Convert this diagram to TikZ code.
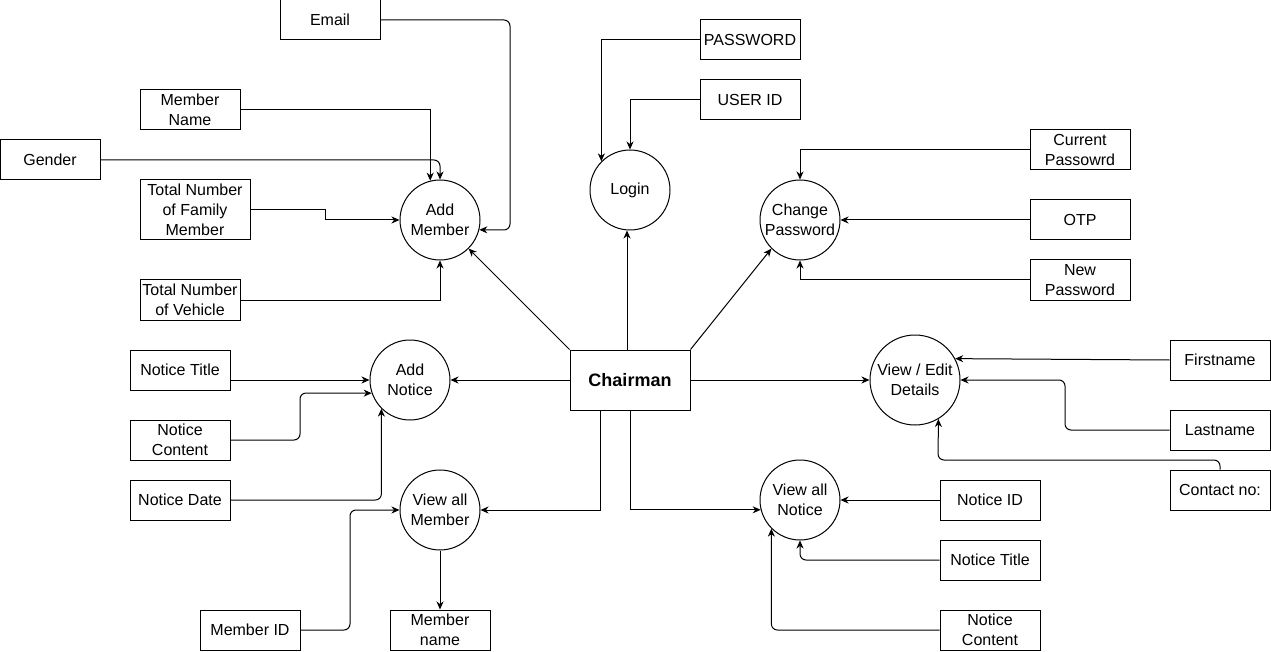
\documentclass[tikz,border=0pt]{standalone}
\usepackage{fontspec}
\setmainfont{Liberation Sans}
\usetikzlibrary{arrows.meta}

\begin{document}
\begin{tikzpicture}[x=1pt,y=-1pt,line width=1pt,font=\fontsize{16}{20}\selectfont,
	box/.style={draw,minimum width=100pt,minimum height=40pt,align=center,inner sep=0pt},
	proc/.style={draw,circle,minimum size=80pt,align=center,inner sep=0pt},
	arr/.style={-{Stealth[length=8pt,width=7pt,inset=2.5pt]}},
	rnd/.style={arr,rounded corners=6pt}]
	\useasboundingbox (0,0) rectangle (1271,652);
	\node[box] (email) at (330,20) {Email};
	\node[box] (mname) at (190,110) {Member\\Name};
	\node[box] (gender) at (50,160) {Gender};
	\node[box,minimum width=110pt,minimum height=60pt] (family) at (195,210) {Total Number\\of Family\\Member};
	\node[box] (vehicle) at (190,300) {Total Number\\of Vehicle};
	\node[proc] (addm) at (440,220) {Add\\Member};
	\node[proc] (login) at (630,190) {Login};
	\node[box] (pass) at (750,40) {PASSWORD};
	\node[box] (uid) at (750,100) {USER ID};
	\node[proc] (chpass) at (800,220) {Change\\Password};
	\node[box] (curpass) at (1080,150) {Current\\Passowrd};
	\node[box] (otp) at (1080,220) {OTP};
	\node[box] (newpass) at (1080,280) {New\\Password};
	\node[box,minimum width=120pt,minimum height=60pt,font=\fontsize{18}{22}\selectfont\bfseries] (chair) at (630,380) {Chairman};
	\node[proc] (addn) at (410,380) {Add\\Notice};
	\node[box] (ntitle) at (180,370) {Notice Title};
	\node[box] (ncontent) at (180,440) {Notice\\Content};
	\node[box] (ndate) at (180,500) {Notice Date};
	\node[proc] (viewm) at (440,510) {View all\\Member};
	\node[box] (mid) at (250,630) {Member ID};
	\node[box] (mname2) at (440,630) {Member\\name};
	\node[proc,minimum size=90pt] (edit) at (915,380) {View / Edit\\Details};
	\node[box] (fname) at (1220,360) {Firstname};
	\node[box] (lname) at (1220,430) {Lastname};
	\node[box] (contact) at (1220,490) {Contact no:};
	\node[proc] (viewn) at (800,500) {View all\\Notice};
	\node[box] (nid) at (990,500) {Notice ID};
	\node[box] (ntitle2) at (990,560) {Notice Title};
	\node[box] (ncontent2) at (990,630) {Notice\\Content};

	\draw[rnd] (email.east) -- (510,20) -- (510,230) -- (addm.-14.5);
	\draw[arr] (mname.east) -| (addm.104.5);
	\draw[rnd] (gender.east) -| (addm.north);
	\draw[arr] (family.east) -- (325,210) -- (325,220) -- (addm.west);
	\draw[arr] (vehicle.east) -| (addm.south);
	\draw[arr] (chair.north west) -- (addm.-45);
	\draw[arr] ([xshift=-3pt]chair.north) -- ([xshift=-3pt]login.south);
	\draw[arr] (pass.west) -| (login.135);
	\draw[arr] (uid.west) -| (login.north);
	\draw[arr] (chair.north east) -- (chpass.-135);
	\draw[arr] (curpass.west) -| (chpass.north);
	\draw[arr] (otp.west) -- (chpass.east);
	\draw[arr] (newpass.west) -| (chpass.south);
	\draw[arr] (chair.west) -- (addn.east);
	\draw[arr] ([yshift=-10pt]ntitle.east) -- (addn.west);
	\draw[rnd] (ncontent.east) -- (300,440) -- (300,393) -- (addn.199);
	\draw[rnd] (ndate.east) -| (addn.225);
	\draw[arr] ([xshift=-30pt]chair.south) |- (viewm.east);
	\draw[rnd] (mid.east) -| (350,510) -- (viewm.west);
	\draw[arr] (viewm.south) -- (mname2.north);
	\draw[arr] (chair.east) -- (edit.west);
	\draw[arr] (chair.south) |- (viewn.194);
	\draw[arr] (fname.west) -- (edit.28);
	\draw[rnd] (lname.west) -- (1065,430) -- (1065,380) -- (edit.east);
	\draw[rnd] (contact.north) -- (1220,460) -- (938,460) -- (edit.-59);
	\draw[arr] (nid.west) -- (viewn.east);
	\draw[rnd] (ntitle2.west) -| (viewn.south);
	\draw[rnd] (ncontent2.west) -| (viewn.225);
\end{tikzpicture}
\end{document}
